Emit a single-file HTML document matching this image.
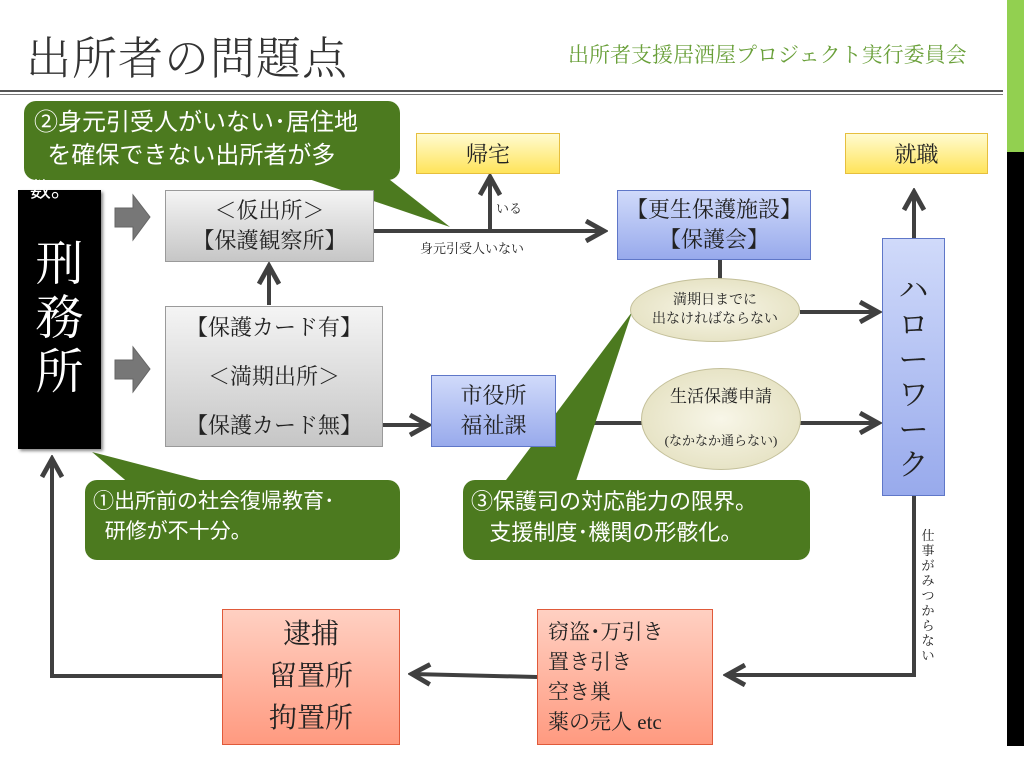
<!DOCTYPE html>
<html><head><meta charset="utf-8">
<style>
*{margin:0;padding:0;box-sizing:border-box}
body{width:1024px;height:768px;background:#fff;position:relative;overflow:hidden;font-family:"Liberation Serif","Noto Serif CJK SC",serif;color:#222}
.a{position:absolute}
.box{position:absolute;display:flex;flex-direction:column;align-items:center;justify-content:center;text-align:center}
.gray{background:linear-gradient(#f4f4f4,#c6c6c6);border:1px solid #9a9a9a}
.blue{background:linear-gradient(#d0dafa,#98aaec);border:1px solid #5f77c8}
.yel{background:linear-gradient(#fffbd0,#ffe45a);border:1px solid #e6bf3e}
.red{background:linear-gradient(#ffd0c2,#ff9a80);border:1px solid #e05a3a}
.ell{position:absolute;border-radius:50%;background:radial-gradient(#f8f6e8,#e0dcb8);border:1px solid #c4c09a;display:flex;flex-direction:column;align-items:center;justify-content:center;text-align:center}
.cal{position:absolute;background:#4c7a1f;border-radius:12px;color:#fff;font-family:"Liberation Sans","Noto Sans CJK JP",sans-serif}
</style></head><body>
<div class="a" style="left:26px;top:22px;font-size:45px;color:#333;font-weight:300;letter-spacing:1px">出所者の問題点</div>
<div class="a" style="left:568px;top:39px;font-size:21px;color:#6aa03a">出所者支援居酒屋プロジェクト実行委員会</div>
<div class="a" style="left:1007px;top:0;width:17px;height:152px;background:#92d050"></div>
<div class="a" style="left:1007px;top:152px;width:17px;height:594px;background:#000"></div>
<div class="a" style="left:0;top:90px;width:1003px;height:2px;background:#555"></div>
<div class="a" style="left:0;top:94px;width:1003px;height:1px;background:#777"></div>

<svg class="a" style="left:0;top:0" width="1024" height="768">
<defs><marker id="ar" markerWidth="6" markerHeight="6" refX="5" refY="3" orient="auto" markerUnits="strokeWidth"><path d="M0.5,0.5 L5,3 L0.5,5.5" fill="none" stroke="#404040" stroke-width="1.2"/></marker></defs>
<g stroke="#404040" stroke-width="4" fill="none">
<path d="M374,231 H604" marker-end="url(#ar)"/>
<path d="M490,231 V177" marker-end="url(#ar)"/>
<path d="M269,305 V266" marker-end="url(#ar)"/>
<path d="M358,425 H428" marker-end="url(#ar)"/>
<path d="M720,260 V280"/>
<path d="M800,312 H878" marker-end="url(#ar)"/>
<path d="M556,423 H642"/>
<path d="M800,423 H878" marker-end="url(#ar)"/>
<path d="M914,238 V192" marker-end="url(#ar)"/>
<path d="M914,496 V675 H727" marker-end="url(#ar)"/>
<path d="M537,677 L412,674" marker-end="url(#ar)"/>
<path d="M222,676 H52 V459" marker-end="url(#ar)"/>
</g>
<g fill="#777" stroke="#666" stroke-width="1">
<path d="M115,208 H133 V195 L150,217 L133,240 V227 H115Z"/>
<path d="M115,360 H133 V347 L150,369 L133,392 V379 H115Z"/>
</g>
<g fill="#4c7a1f">
<polygon points="300,176 385,176 450,227"/>
<polygon points="92,452 130,484 215,484"/>
<polygon points="503,484 575,484 632,312"/>
</g>
</svg>

<div class="cal" style="left:24px;top:101px;width:376px;height:79px;font-size:24px;line-height:33px;padding:5px 0 0 10px">②身元引受人がいない･居住地<br>&nbsp;&nbsp;を確保できない出所者が多</div>
<div class="a" style="left:18px;top:190px;width:83px;height:259px;background:#000;box-shadow:2px 2px 3px #888"></div>
<div class="a" style="left:30px;top:174px;font-size:21px;color:#fff;font-family:'Liberation Sans','Noto Sans CJK JP',sans-serif">数。</div>
<div class="a" style="left:18px;top:238px;width:83px;text-align:center;color:#fff;font-size:48px;line-height:54px">刑<br>務<br>所</div>

<div class="box gray" style="left:165px;top:190px;width:209px;height:72px;font-size:22px;line-height:30px">＜仮出所＞<br>【保護観察所】</div>
<div class="box gray" style="left:165px;top:306px;width:218px;height:141px;font-size:22px;line-height:49px">【保護カード有】<br>＜満期出所＞<br>【保護カード無】</div>
<div class="a" style="left:496px;top:198px;font-size:13px">いる</div>
<div class="a" style="left:420px;top:238px;font-size:13px">身元引受人いない</div>
<div class="box yel" style="left:416px;top:133px;width:144px;height:41px;font-size:22px">帰宅</div>
<div class="box yel" style="left:845px;top:133px;width:143px;height:41px;font-size:22px">就職</div>
<div class="box blue" style="left:617px;top:190px;width:194px;height:70px;font-size:22px;line-height:30px">【更生保護施設】<br>【保護会】</div>
<div class="ell" style="left:630px;top:278px;width:170px;height:64px;font-size:14px;line-height:19px">満期日までに<br>出なければならない</div>
<div class="box blue" style="left:431px;top:375px;width:125px;height:72px;font-size:22px;line-height:30px">市役所<br>福祉課</div>
<div class="ell" style="left:641px;top:368px;width:160px;height:102px;font-size:17px;line-height:22px">生活保護申請<br><br><span style="font-size:13px">(なかなか通らない)</span></div>
<div class="box blue" style="left:882px;top:238px;width:63px;height:258px;font-size:30px;line-height:35px;justify-content:flex-start;padding-top:34px">ハ<br>ロ<br>ー<br>ワ<br>ー<br>ク</div>
<div class="a" style="left:920px;top:528px;width:16px;font-size:13px;line-height:15px;text-align:center">仕<br>事<br>が<br>み<br>つ<br>か<br>ら<br>な<br>い</div>

<div class="cal" style="left:85px;top:480px;width:315px;height:80px;font-size:21px;line-height:30px;padding:7px 0 0 8px">①出所前の社会復帰教育･<br>&nbsp;&nbsp;研修が不十分。</div>
<div class="cal" style="left:463px;top:480px;width:347px;height:80px;font-size:22px;line-height:31px;padding:6px 0 0 8px">③保護司の対応能力の限界。<br>&nbsp;&nbsp;&nbsp;支援制度･機関の形骸化。</div>

<div class="box red" style="left:222px;top:609px;width:178px;height:136px;font-size:28px;line-height:42px">逮捕<br>留置所<br>拘置所</div>
<div class="box red" style="left:537px;top:609px;width:176px;height:136px;font-size:21px;line-height:30px;align-items:flex-start;padding-left:10px;text-align:left">窃盗･万引き<br>置き引き<br>空き巣<br>薬の売人 etc</div>
</body></html>
